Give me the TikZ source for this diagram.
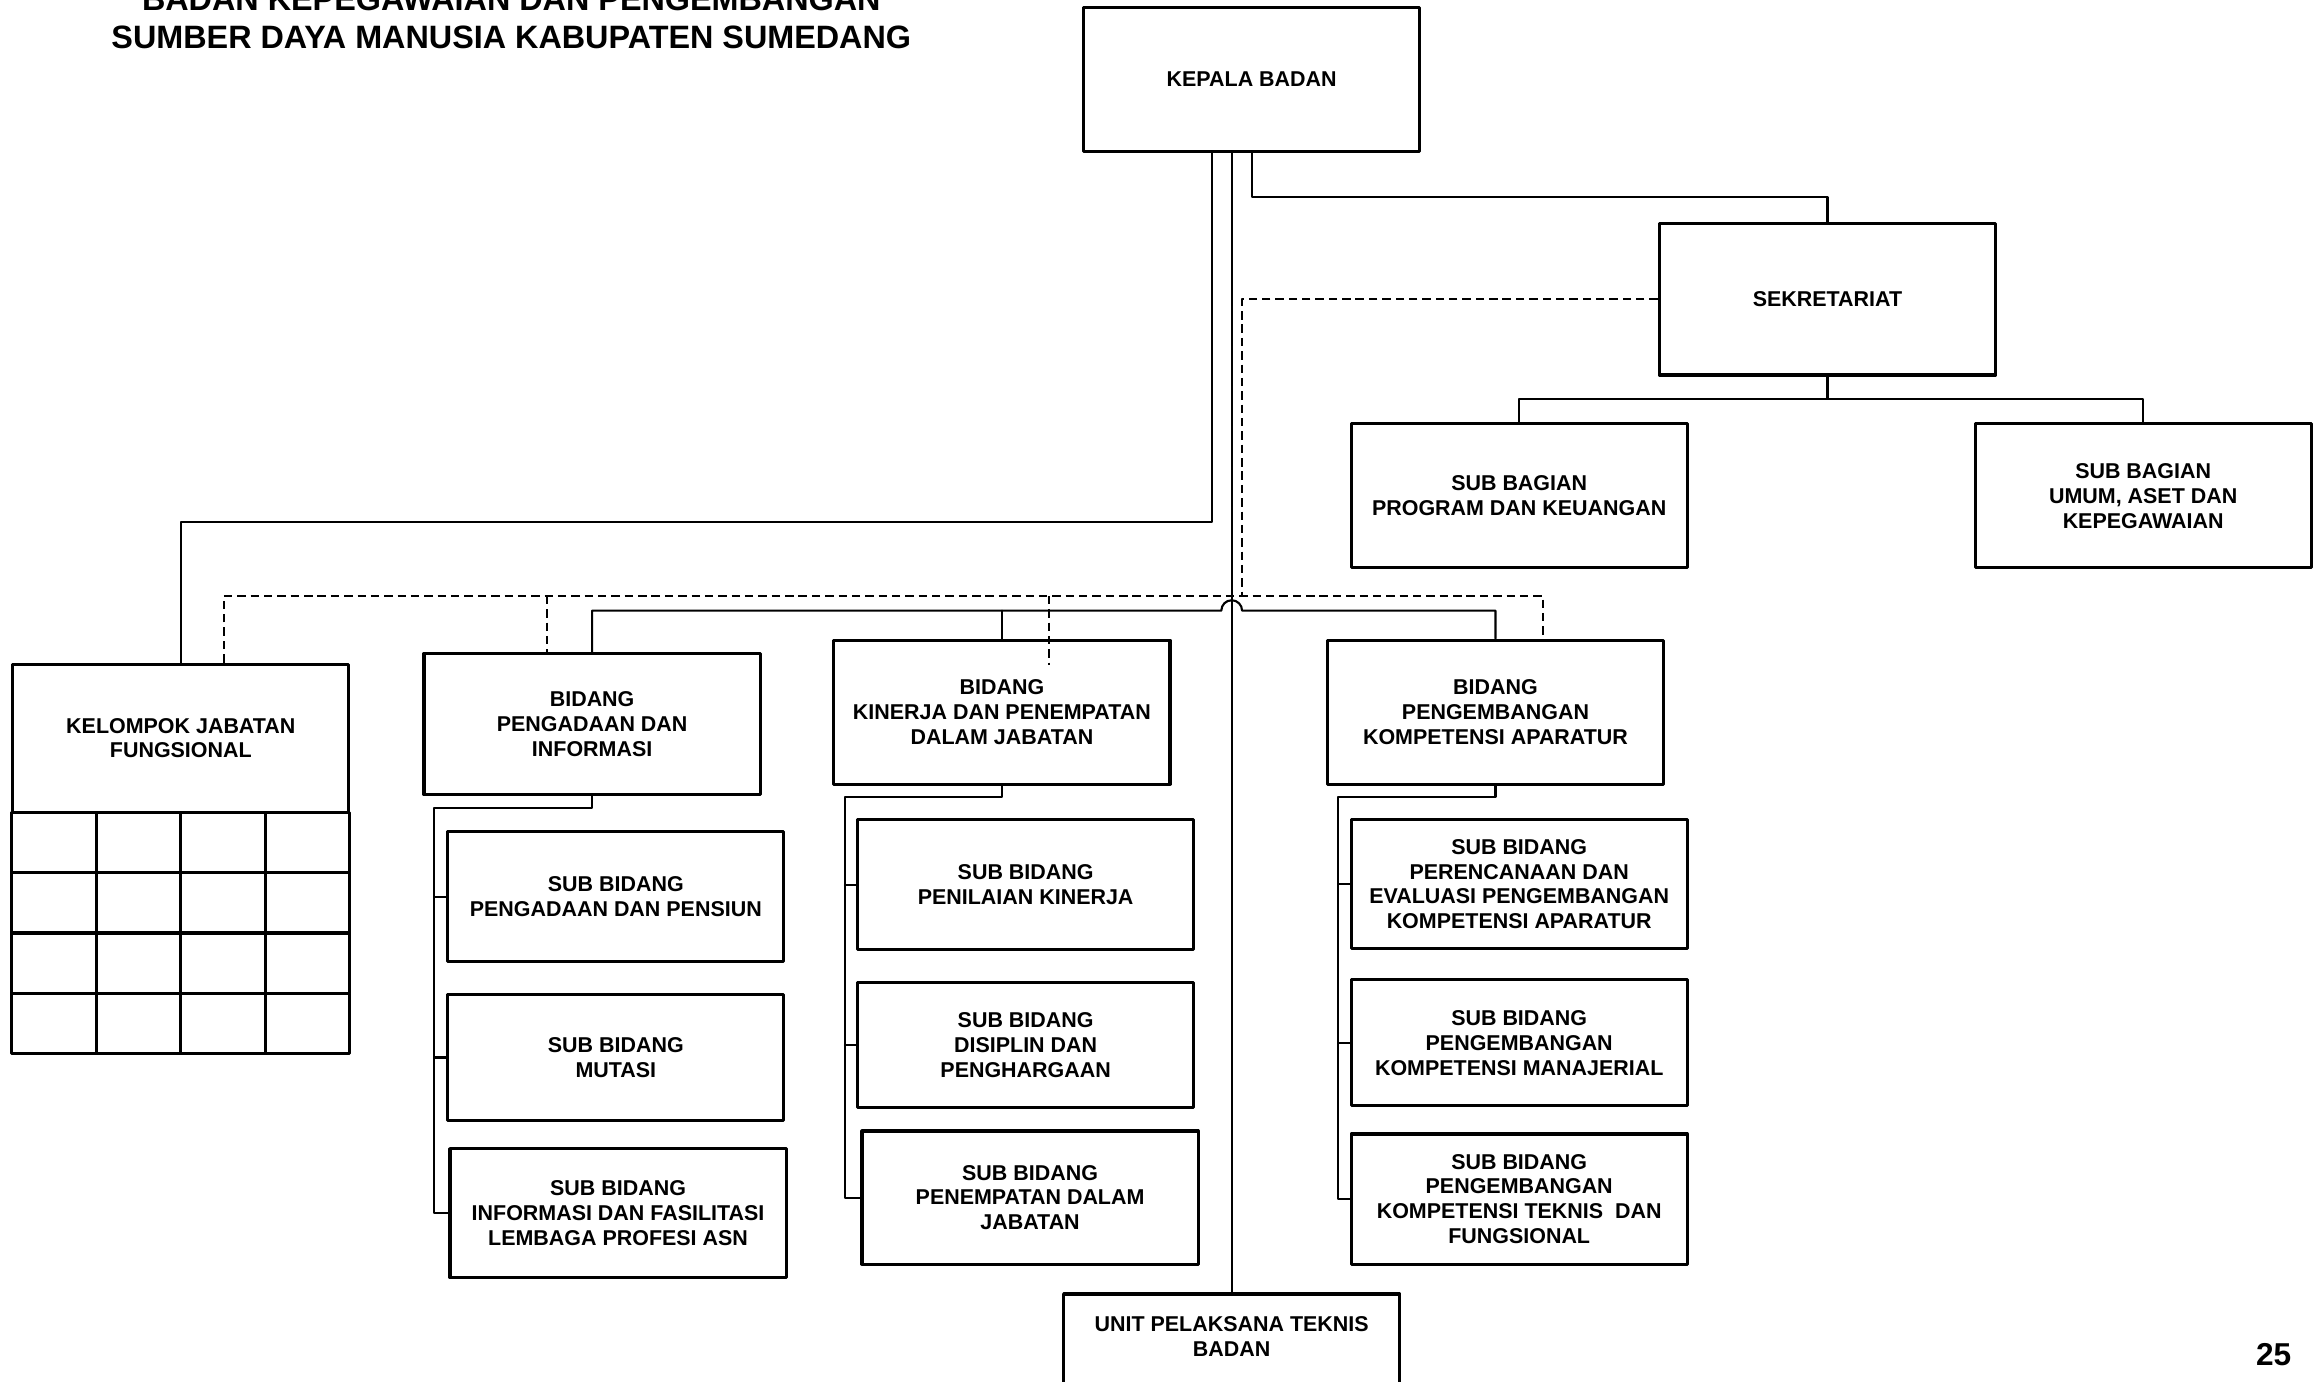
\documentclass[tikz,border=0pt]{standalone}
\usepackage{fontspec}
\setmainfont{Liberation Sans}
\begin{document}
\begin{tikzpicture}[line join=round, line cap=round, x=0.01482cm, y=-0.01482cm,
	font=\fontsize{6.1}{7.1}\selectfont\bfseries,
	kotak/.style={draw, line width=0.9pt, align=center, inner sep=1pt, minimum width=3.36cm},
	garis/.style={line width=0.6pt},
	putus/.style={line width=0.6pt, line cap=butt, dash pattern=on 2.4pt off 1.4pt}]
	\useasboundingbox (0,0) rectangle (1568,932);
	%Judul
	\node[font=\fontsize{9.2}{11}\selectfont\bfseries, anchor=base] (judul1) at (345,7) {BADAN KEPEGAWAIAN DAN PENGEMBANGAN};
	\node[font=\fontsize{9.2}{11}\selectfont\bfseries, anchor=base] (judul2) at (345,33) {SUMBER DAYA MANUSIA KABUPATEN SUMEDANG};
	\node[font=\fontsize{9}{9}\selectfont\bfseries, anchor=base] (hal) at (1534,921) {25};
	
	%Kepala, sekretariat
	\node[kotak, minimum height=1.44cm] (kepala) at (844.5,53.5) {KEPALA BADAN};
	\node[kotak, minimum height=1.51cm] (sekretariat) at (1233,202) {SEKRETARIAT};
	\node[kotak, minimum height=1.44cm] (subprog) at (1025,334.5) {SUB BAGIAN\\PROGRAM DAN KEUANGAN};
	\node[kotak, minimum height=1.44cm] (subumum) at (1446,334.5) {SUB BAGIAN\\UMUM, ASET DAN\\KEPEGAWAIAN};
	
	%Kelompok jabatan
	\node[kotak, minimum height=1.48cm] (kelompok) at (122,498) {KELOMPOK JABATAN\\FUNGSIONAL};
	\foreach \r in {0,...,3}
	\foreach \c in {0,...,3} {
		\draw[line width=0.9pt] (8+57*\c,548+40.75*\r) rectangle ++(57,40.75);
	}
	
	%Bidang
	\node[kotak, minimum height=1.41cm] (bidpeng) at (399.5,488.5) {BIDANG\\PENGADAAN DAN\\INFORMASI};
	\node[kotak, minimum height=1.44cm] (bidkin) at (676,480.5) {BIDANG\\KINERJA DAN PENEMPATAN\\DALAM JABATAN};
	\node[kotak, minimum height=1.44cm] (bidkom) at (1009,480.5) {BIDANG\\PENGEMBANGAN\\KOMPETENSI APARATUR};
	
	%Sub bidang
	\node[kotak, minimum height=1.30cm] (sp1) at (415.5,605) {SUB BIDANG\\PENGADAAN DAN PENSIUN};
	\node[kotak, minimum height=1.26cm] (sp2) at (415.5,713.5) {SUB BIDANG\\MUTASI};
	\node[kotak, minimum height=1.29cm] (sp3) at (417,818.5) {SUB BIDANG\\INFORMASI DAN FASILITASI\\LEMBAGA PROFESI ASN};
	\node[kotak, minimum height=1.30cm] (sk1) at (692,597) {SUB BIDANG\\PENILAIAN KINERJA};
	\node[kotak, minimum height=1.245cm] (sk2) at (692,705) {SUB BIDANG\\DISIPLIN DAN\\PENGHARGAAN};
	\node[kotak, minimum height=1.33cm] (sk3) at (695,808) {SUB BIDANG\\PENEMPATAN DALAM\\JABATAN};
	\node[kotak, minimum height=1.29cm] (so1) at (1025,596.5) {SUB BIDANG\\PERENCANAAN DAN\\EVALUASI PENGEMBANGAN\\KOMPETENSI APARATUR};
	\node[kotak, minimum height=1.26cm] (so2) at (1025,703.5) {SUB BIDANG\\PENGEMBANGAN\\KOMPETENSI MANAJERIAL};
	\node[kotak, minimum height=1.30cm] (so3) at (1025,809) {SUB BIDANG\\PENGEMBANGAN\\KOMPETENSI TEKNIS~ DAN\\FUNGSIONAL};
	
	%UPT
	\node[kotak, anchor=north, inner ysep=6.5pt, text depth=1.2cm] (upt) at (831,872) {UNIT PELAKSANA TEKNIS\\BADAN};
	
	%Garis
	\draw[garis] (kepala.south -| upt.north) -- (upt.north);
	\draw[garis] (kepala.south) -- ++(0,30) -| (sekretariat.north);
	\coordinate (kjf) at (818,352);
	\draw[garis] (kepala.south -| kjf) -- (kjf) -| (kelompok.north);
	\draw[garis] (sekretariat.south) -- ++(0,15) -| (subprog.north);
	\draw[garis] (sekretariat.south) -- ++(0,15) -| (subumum.north);
	
	\coordinate (hop) at (824,412);
	\draw[garis] (bidpeng.north) |- (hop) arc[start angle=180, end angle=0, radius=0.104cm] -| (bidkom.north);
	\draw[garis] (bidkin.north) -- (bidkin.north |- hop);
	
	\coordinate (rpeng) at (293,545);
	\coordinate (rkin) at (570,538);
	\coordinate (rkom) at (903,538);
	\draw[garis] (bidpeng.south) |- (rpeng) |- (sp3.west);
	\draw[garis] (bidkin.south) |- (rkin) |- (sk3.west);
	\draw[garis] (bidkom.south) |- (rkom) |- (so3.west);
	\foreach \s in {sp1,sp2} {\draw[garis] (rpeng |- \s.west) -- (\s.west);}
	\foreach \s in {sk1,sk2} {\draw[garis] (rkin |- \s.west) -- (\s.west);}
	\foreach \s in {so1,so2} {\draw[garis] (rkom |- \s.west) -- (\s.west);}
	
	%Putus-putus
	\coordinate (dsek) at (838,402);
	\coordinate (dkjf) at (151,402);
	\coordinate (dkom) at (1041,402);
	\coordinate (dpeng) at (369,402);
	\coordinate (dkin) at (708,402);
	\draw[putus] (sekretariat.west) -| (dsek);
	\draw[putus] (dkjf |- kelompok.north) -- (dkjf) -- (dkom) -- (dkom |- bidkom.north);
	\draw[putus] (dpeng) -- (dpeng |- bidpeng.north);
	\draw[putus] (dkin) -- ++(0,47);
\end{tikzpicture}
\end{document}
